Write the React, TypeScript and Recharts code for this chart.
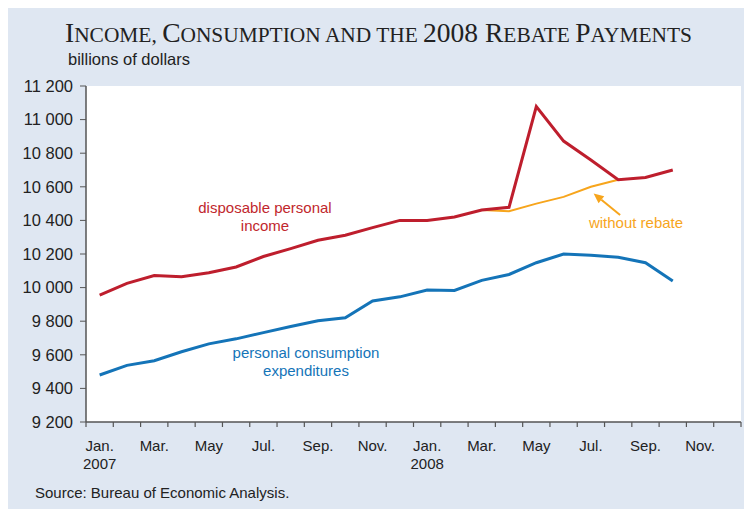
import React from 'react';
import { LineChart, Line, XAxis, YAxis, CartesianGrid, ReferenceLine } from 'recharts';

// Jan. 2007 .. Dec. 2008
const monthLabels = [
  'Jan.', 'Feb.', 'Mar.', 'Apr.', 'May', 'Jun.', 'Jul.', 'Aug.', 'Sep.', 'Oct.', 'Nov.', 'Dec.',
  'Jan.', 'Feb.', 'Mar.', 'Apr.', 'May', 'Jun.', 'Jul.', 'Aug.', 'Sep.', 'Oct.', 'Nov.', 'Dec.',
];
const yearLabels: Record<number, string> = { 0: '2007', 12: '2008' };

// billions of dollars, Jan. 2007 .. Oct. 2008
const income = [
  9955, 10025, 10072, 10065, 10088, 10123, 10185, 10232, 10282, 10312, 10357, 10400,
  10400, 10420, 10462, 10478, 11078, 10872, 10760, 10642, 10655, 10700,
];
const consumption = [
  9480, 9537, 9565, 9618, 9665, 9695, 9732, 9768, 9803, 9820, 9920, 9945,
  9985, 9983, 10043, 10078, 10148, 10200, 10192, 10180, 10148, 10040,
];
const withoutRebate: (number | null)[] = [
  null, null, null, null, null, null, null, null, null, null, null, null,
  null, null, 10462, 10455, 10500, 10540, 10600, 10642, null, null,
];

const yTicks = [9200, 9400, 9600, 9800, 10000, 10200, 10400, 10600, 10800, 11000, 11200];

const data = income.map((v, i) => ({
  x: i + 0.5,
  income: v,
  consumption: consumption[i],
  withoutRebate: withoutRebate[i],
}));

const boundaryTicks = monthLabels.map((_, i) => i).concat(monthLabels.length);
const labelTicks = monthLabels.map((_, i) => i + 0.5).filter((_, i) => i % 2 === 0);

const RED = '#be1e2d';
const BLUE = '#1474b8';
const ORANGE = '#f7a51c';
const AXIS = '#555';
const SANS = '"Liberation Sans", Arial, sans-serif';

const formatThousands = (v: number) => String(v).replace(/\B(?=(\d{3})+(?!\d))/g, ' ');

const MonthTick = ({ x, y, payload }: any) => {
  const i = Math.floor(payload.value);
  return (
    <text x={x} y={y} textAnchor="middle" fill="#222" fontSize={15} fontFamily={SANS}>
      <tspan x={x} dy={23}>{monthLabels[i]}</tspan>
      {yearLabels[i] && <tspan x={x} dy={18}>{yearLabels[i]}</tspan>}
    </text>
  );
};

const EmptyTick = () => <g />;

const Arrow = (props: any) => {
  const { x1, y1, x2, y2 } = props;
  const a = Math.atan2(y2 - y1, x2 - x1);
  const len = 10;
  const w = 4.5;
  const bx = x2 - len * Math.cos(a);
  const by = y2 - len * Math.sin(a);
  const px = -Math.sin(a) * w;
  const py = Math.cos(a) * w;
  return (
    <g>
      <line x1={x1} y1={y1} x2={bx} y2={by} stroke={ORANGE} strokeWidth={2} />
      <polygon points={`${x2},${y2} ${bx + px},${by + py} ${bx - px},${by - py}`} fill={ORANGE} />
    </g>
  );
};

const note: React.CSSProperties = {
  position: 'absolute',
  transform: 'translateX(-50%)',
  textAlign: 'center',
  fontFamily: SANS,
  fontSize: 15,
  lineHeight: '18px',
  whiteSpace: 'nowrap',
};

export default function App() {
  return (
    <div style={{ position: 'relative', width: 744, height: 501, background: '#dfe7f2', overflow: 'hidden' }}>
      <div style={{ position: 'absolute', left: 57, top: 11, fontFamily: '"Liberation Serif", "Times New Roman", serif', fontSize: 27.5, lineHeight: '27px', color: '#222', whiteSpace: 'nowrap' }}>
        I<span style={{ fontSize: 21.4 }}>NCOME, </span>C<span style={{ fontSize: 21.4 }}>ONSUMPTION AND THE </span>2008 R<span style={{ fontSize: 21.4 }}>EBATE </span>P<span style={{ fontSize: 21.4 }}>AYMENTS</span>
      </div>
      <div style={{ position: 'absolute', left: 60, top: 42, fontFamily: SANS, fontSize: 16.5, lineHeight: '18px', color: '#222' }}>
        billions of dollars
      </div>

      <LineChart width={744} height={501} data={data} margin={{ top: 78, right: 11, bottom: 47, left: 0 }} style={{ position: 'absolute', left: 0, top: 0 }}>
        <CartesianGrid xAxisId="a_months" yAxisId="left" horizontal={false} vertical={false} fill="#fff" />
        <XAxis
          xAxisId="a_months"
          dataKey="x"
          type="number"
          domain={[0, 24]}
          ticks={boundaryTicks}
          interval={0}
          height={6}
          tickSize={5}
          tick={<EmptyTick />}
          axisLine={{ stroke: AXIS, strokeWidth: 1.5 }}
          tickLine={{ stroke: AXIS, strokeWidth: 1.2 }}
        />
        <XAxis
          xAxisId="b_labels"
          dataKey="x"
          type="number"
          domain={[0, 24]}
          ticks={labelTicks}
          interval={0}
          height={34}
          tickSize={0}
          tickMargin={0}
          axisLine={false}
          tickLine={false}
          tick={<MonthTick />}
        />
        <XAxis xAxisId="top" orientation="top" dataKey="x" type="number" domain={[0, 24]} height={0} tick={false} tickLine={false} axisLine={{ stroke: '#999', strokeWidth: 1 }} />
        <YAxis
          yAxisId="left"
          domain={[9200, 11200]}
          ticks={yTicks}
          interval={0}
          width={78}
          tickSize={6}
          tickMargin={7}
          tickFormatter={formatThousands}
          tick={{ fill: '#222', fontSize: 16.5, fontFamily: SANS }}
          axisLine={{ stroke: AXIS, strokeWidth: 1.5 }}
          tickLine={{ stroke: AXIS, strokeWidth: 1 }}
        />
        <YAxis yAxisId="right" orientation="right" domain={[9200, 11200]} width={0} tick={false} tickLine={false} axisLine={{ stroke: AXIS, strokeWidth: 2 }} />

        <Line xAxisId="a_months" yAxisId="left" dataKey="withoutRebate" stroke={ORANGE} strokeWidth={2} dot={false} activeDot={false} isAnimationActive={false} />
        <Line xAxisId="a_months" yAxisId="left" dataKey="income" stroke={RED} strokeWidth={3} dot={false} activeDot={false} isAnimationActive={false} />
        <Line xAxisId="a_months" yAxisId="left" dataKey="consumption" stroke={BLUE} strokeWidth={3} dot={false} activeDot={false} isAnimationActive={false} />

        <ReferenceLine
          xAxisId="a_months"
          yAxisId="left"
          segment={[{ x: 19.57, y: 10432 }, { x: 18.6, y: 10560 }]}
          ifOverflow="visible"
          shape={<Arrow />}
        />
      </LineChart>

      <div style={{ ...note, left: 257, top: 191, color: '#c1272d' }}>
        disposable personal<br />income
      </div>
      <div style={{ ...note, left: 628, top: 206, color: ORANGE }}>without rebate</div>
      <div style={{ ...note, left: 298, top: 336, color: BLUE }}>
        personal consumption<br />expenditures
      </div>

      <div style={{ position: 'absolute', left: 27, top: 476, fontFamily: SANS, fontSize: 15, lineHeight: '18px', color: '#222' }}>
        Source: Bureau of Economic Analysis.
      </div>
    </div>
  );
}
